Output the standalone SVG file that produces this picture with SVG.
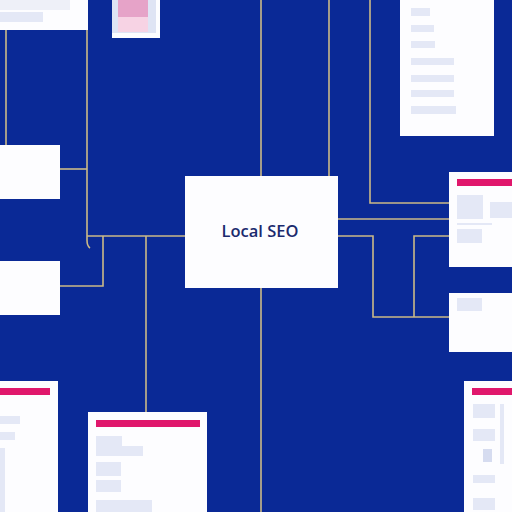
<svg xmlns="http://www.w3.org/2000/svg" width="512" height="512" viewBox="0 0 512 512">
<style>
.card{fill:#fdfdff}
.blk{fill:#e4e8f6}
.bar{fill:#e0176c}
.ln{fill:none;stroke:#cbb987;stroke-width:1.6}
.lbl{font-family:"Open Sans","Noto Sans",Arial,sans-serif;font-weight:600;font-size:16.5px;fill:#1b2a6e}
</style>
<rect width="512" height="512" fill="#0a2996"/>
<g id="connectors">
<path class="ln" d="M6 30V145"/>
<path class="ln" d="M87 30V240Q87 246 90 248"/>
<path class="ln" d="M60 169H87"/>
<path class="ln" d="M87 236H185"/>
<path class="ln" d="M103 236V286H60"/>
<path class="ln" d="M146 236V412"/>
<path class="ln" d="M261 0V176M261 288V512"/>
<path class="ln" d="M329 0V176"/>
<path class="ln" d="M370 0V203H449"/>
<path class="ln" d="M338 219H449"/>
<path class="ln" d="M338 236H373V317H449"/>
<path class="ln" d="M414 317V236H449"/>
</g>
<g id="node-topleft">
<rect class="card" x="0" y="0" width="88" height="30"/>
<rect fill="#eef0f8" x="0" y="0" width="70" height="10"/>
<rect class="blk" x="0" y="12" width="43" height="10"/>
</g>
<g id="node-pink">
<rect class="card" x="112" y="0" width="48" height="38"/>
<rect fill="#dfe4f4" x="112" y="0" width="44" height="33"/>
<rect fill="#e6a3c8" x="118" y="0" width="30" height="17"/>
<rect fill="#f7d3e4" x="118" y="17" width="30" height="15"/>
</g>
<g id="node-topright">
<rect class="card" x="400" y="0" width="94" height="136"/>
<rect class="blk" x="411" y="8" width="19" height="8"/>
<rect class="blk" x="411" y="25" width="23" height="7"/>
<rect class="blk" x="411" y="41" width="24" height="7"/>
<rect class="blk" x="411" y="58" width="43" height="7"/>
<rect class="blk" x="411" y="75" width="43" height="7"/>
<rect class="blk" x="411" y="90" width="43" height="7"/>
<rect class="blk" x="411" y="106" width="45" height="8"/>
</g>
<g id="node-left1">
<rect class="card" x="0" y="145" width="60" height="54"/>
</g>
<g id="node-left2">
<rect class="card" x="0" y="261" width="60" height="54"/>
</g>
<g id="node-center">
<rect class="card" x="185" y="176" width="153" height="112"/>
<text class="lbl" x="260" y="237" text-anchor="middle">Local SEO</text>
</g>
<g id="node-right1">
<rect class="card" x="449" y="172" width="63" height="95"/>
<rect class="bar" x="457" y="179" width="55" height="7"/>
<rect class="blk" x="457" y="195" width="26" height="24"/>
<rect class="blk" x="490" y="202" width="22" height="16"/>
<rect class="blk" x="457" y="223" width="35" height="2"/>
<rect class="blk" x="457" y="229" width="25" height="14"/>
</g>
<g id="node-right2">
<rect class="card" x="449" y="293" width="63" height="59"/>
<rect class="blk" x="457" y="298" width="25" height="13"/>
</g>
<g id="node-bottomleft">
<rect class="card" x="0" y="381" width="58" height="131"/>
<rect class="bar" x="0" y="388" width="50" height="7"/>
<rect class="blk" x="0" y="416" width="20" height="8"/>
<rect class="blk" x="0" y="432" width="15" height="8"/>
<rect class="blk" x="0" y="448" width="5" height="64"/>
</g>
<g id="node-bottomcenter">
<rect class="card" x="88" y="412" width="119" height="100"/>
<rect class="bar" x="96" y="420" width="104" height="7"/>
<rect class="blk" x="96" y="436" width="26" height="10"/>
<rect class="blk" x="96" y="446" width="47" height="10"/>
<rect class="blk" x="96" y="462" width="25" height="14"/>
<rect class="blk" x="96" y="480" width="25" height="12"/>
<rect class="blk" x="96" y="500" width="56" height="12"/>
</g>
<g id="node-bottomright">
<rect class="card" x="464" y="381" width="48" height="131"/>
<rect class="bar" x="472" y="388" width="40" height="7"/>
<rect class="blk" x="473" y="404" width="22" height="14"/>
<rect class="blk" x="473" y="429" width="22" height="12"/>
<rect fill="#d6dcf0" x="483" y="449" width="9" height="13"/>
<rect class="blk" x="473" y="475" width="22" height="8"/>
<rect class="blk" x="473" y="498" width="22" height="12"/>
<rect class="blk" x="500" y="404" width="4" height="60"/>
</g>
</svg>
